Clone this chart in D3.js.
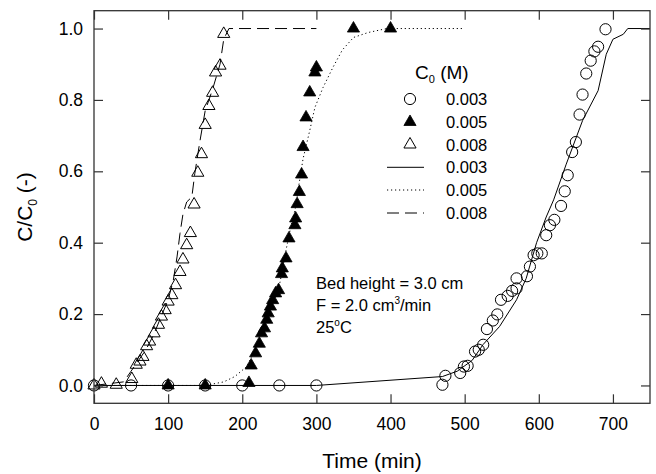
<!DOCTYPE html>
<html>
<head>
<meta charset="utf-8">
<script src="https://cdn.jsdelivr.net/npm/d3@7/dist/d3.min.js"></script>
<style>
  html, body { margin: 0; padding: 0; background: #fff; }
  svg { display: block; font-family: "Liberation Sans", Arial, Helvetica, sans-serif; }
</style>
</head>
<body>
<svg id="chart" width="656" height="474"></svg>
<script>
// Breakthrough curves: measured points (time in min, C/C0)
const obs003Time = [0, 50, 100, 150, 200, 250, 300, 470, 474, 494, 499, 504, 514, 519, 525, 530, 538, 544, 549, 558, 564, 570, 570, 584, 588, 593, 598, 604, 610, 615, 621, 630, 635, 639, 645, 650, 655, 659, 664, 670, 675, 680, 690];
const obs003Val  = [0, 0, 0, 0, 0, 0, 0, 0.002, 0.027, 0.035, 0.053, 0.055, 0.095, 0.100, 0.114, 0.158, 0.182, 0.199, 0.240, 0.251, 0.265, 0.272, 0.300, 0.306, 0.333, 0.365, 0.370, 0.370, 0.421, 0.449, 0.464, 0.503, 0.544, 0.589, 0.654, 0.682, 0.759, 0.815, 0.874, 0.910, 0.936, 0.949, 0.998];

const obs005Time = [100, 150, 209, 212, 218, 223, 226, 230, 233, 235, 238, 241, 245, 249, 253, 254, 259, 263, 271, 272, 274, 277, 280, 282, 286, 291, 298, 300, 350, 400];
const obs005Val  = [0, 0, 0.007, 0.056, 0.090, 0.117, 0.146, 0.160, 0.184, 0.202, 0.221, 0.239, 0.258, 0.267, 0.312, 0.328, 0.356, 0.412, 0.449, 0.468, 0.508, 0.542, 0.591, 0.668, 0.751, 0.821, 0.877, 0.891, 1.0, 1.0];

const obs008Time = [0, 10, 30, 51, 57, 62, 66, 71, 75, 81, 87, 91, 96, 100, 105, 110, 116, 120, 125, 130, 135, 140, 145, 150, 155, 160, 164, 170, 175];
const obs008Val  = [0, 0.005, 0.002, 0.018, 0.058, 0.067, 0.080, 0.110, 0.123, 0.146, 0.170, 0.193, 0.211, 0.235, 0.253, 0.281, 0.318, 0.353, 0.393, 0.427, 0.507, 0.596, 0.648, 0.730, 0.783, 0.820, 0.877, 0.896, 0.985];

// Model curves
const mod003Time = [0, 300, 470, 490, 510, 525, 547, 570, 583, 597, 610, 620, 637, 659, 680, 691, 700, 714, 720, 750];
const mod003Val  = [0, 0, 0.025, 0.040, 0.070, 0.115, 0.165, 0.240, 0.300, 0.400, 0.472, 0.520, 0.620, 0.742, 0.826, 0.928, 0.970, 0.984, 1.0, 1.0];

const mod005Time = [0, 150, 175, 190, 206, 215, 225, 235, 245, 251, 259, 265, 272, 277, 282, 291, 298, 309, 322, 335, 350, 370, 395, 500];
const mod005Val  = [0, 0, 0.010, 0.025, 0.053, 0.090, 0.140, 0.200, 0.250, 0.290, 0.379, 0.440, 0.500, 0.570, 0.635, 0.714, 0.779, 0.835, 0.890, 0.940, 0.975, 0.989, 1.0, 1.0];

const mod008Time = [0, 40, 50, 60, 70, 80, 90, 100, 107, 112, 116, 120, 125, 132, 136, 143, 150, 160, 170, 175, 182, 300];
const mod008Val  = [0, 0.010, 0.040, 0.070, 0.100, 0.140, 0.190, 0.240, 0.295, 0.360, 0.426, 0.480, 0.514, 0.528, 0.594, 0.686, 0.770, 0.830, 0.900, 0.970, 1.0, 1.0];

const xTicks = [0, 100, 200, 300, 400, 500, 600, 700];
const yTicks = [0, 0.2, 0.4, 0.6, 0.8, 1.0];
const legendLabels = ["0.003", "0.005", "0.008", "0.003", "0.005", "0.008"];

const svg = d3.select("#chart");
const x = d3.scaleLinear().domain([0, 750]).range([94, 650]);
const y = d3.scaleLinear().domain([-0.05, 1.05]).range([403.3, 10.7]);

const ink = "#000";
const frameColor = "#333";

const zip = (a, b) => a.map((v, i) => [v, b[i]]);
const line = d3.line().x(d => x(d[0])).y(d => y(d[1]));

// Model lines
const lineStyles = [
  { data: zip(mod003Time, mod003Val), dash: null },
  { data: zip(mod005Time, mod005Val), dash: "1.2,2.8" },
  { data: zip(mod008Time, mod008Val), dash: "12,6" }
];
lineStyles.forEach(s => {
  svg.append("path")
    .attr("d", line(s.data))
    .attr("fill", "none")
    .attr("stroke", ink)
    .attr("stroke-width", 1)
    .attr("stroke-dasharray", s.dash);
});

// Markers
const triPath = d3.symbol().type(d3.symbolTriangle).size(64)();

svg.append("g").selectAll("circle")
  .data(zip(obs003Time, obs003Val))
  .join("circle")
  .attr("cx", d => x(d[0])).attr("cy", d => y(d[1]))
  .attr("r", 5.6)
  .attr("fill", "none").attr("stroke", ink).attr("stroke-width", 1);

svg.append("g").selectAll("path")
  .data(zip(obs008Time, obs008Val))
  .join("path")
  .attr("d", triPath)
  .attr("transform", d => `translate(${x(d[0])},${y(d[1])})`)
  .attr("fill", "none").attr("stroke", ink).attr("stroke-width", 1);

svg.append("g").selectAll("path")
  .data(zip(obs005Time, obs005Val))
  .join("path")
  .attr("d", triPath)
  .attr("transform", d => `translate(${x(d[0])},${y(d[1])})`)
  .attr("fill", ink).attr("stroke", ink).attr("stroke-width", 0.8);

// Axes with inward ticks on all four sides
const tickFont = 17.5;
const fmtY = d3.format(".1f");

const gB = svg.append("g").attr("transform", `translate(0,${y.range()[0]})`)
  .call(d3.axisBottom(x).tickValues(xTicks).tickSizeInner(-9).tickSizeOuter(0).tickPadding(14).tickFormat(d3.format("d")));
const gT = svg.append("g").attr("transform", `translate(0,${y.range()[1]})`)
  .call(d3.axisTop(x).tickValues(xTicks).tickSizeInner(-9).tickSizeOuter(0).tickFormat(""));
const gL = svg.append("g").attr("transform", `translate(${x.range()[0]},0)`)
  .call(d3.axisLeft(y).tickValues(yTicks).tickSizeInner(-9).tickSizeOuter(0).tickPadding(11).tickFormat(fmtY));
const gR = svg.append("g").attr("transform", `translate(${x.range()[1]},0)`)
  .call(d3.axisRight(y).tickValues(yTicks).tickSizeInner(-9).tickSizeOuter(0).tickFormat(""));

[gB, gT, gL, gR].forEach(g => {
  g.select(".domain").remove();
  g.selectAll("line").attr("stroke", frameColor).attr("stroke-width", 1.2);
  g.selectAll("text").attr("fill", ink).style("font-size", tickFont + "px")
    .style("font-family", "'Liberation Sans', Arial, sans-serif");
});

// Frame
svg.append("rect")
  .attr("x", x.range()[0]).attr("y", y.range()[1])
  .attr("width", x.range()[1] - x.range()[0])
  .attr("height", y.range()[0] - y.range()[1])
  .attr("fill", "none").attr("stroke", frameColor).attr("stroke-width", 1.3);

// Axis titles
svg.append("text")
  .attr("x", 372).attr("y", 468)
  .attr("text-anchor", "middle")
  .style("font-size", "21px")
  .text("Time (min)");

const yTitle = svg.append("text")
  .attr("transform", "translate(32,207) rotate(-90)")
  .attr("text-anchor", "middle")
  .style("font-size", "21px");
yTitle.append("tspan").text("C/C");
yTitle.append("tspan").attr("dy", 5).style("font-size", "12px").text("0");
yTitle.append("tspan").attr("dy", -5).text(" (-)");

// Legend
const legTitle = svg.append("text").attr("x", 415).attr("y", 79).style("font-size", "19px");
legTitle.append("tspan").text("C");
legTitle.append("tspan").attr("dy", 4).style("font-size", "11px").text("0");
legTitle.append("tspan").attr("dy", -4).text(" (M)");

const rowY = [99, 122, 144.5, 167.3, 190, 213];
const leg = svg.append("g");
legendLabels.forEach((lab, i) => {
  leg.append("text").attr("x", 446).attr("y", rowY[i] + 6)
    .style("font-size", "16.5px").text(lab);
});
leg.append("circle").attr("cx", 410).attr("cy", rowY[0]).attr("r", 5.6)
  .attr("fill", "none").attr("stroke", ink);
leg.append("path").attr("d", triPath).attr("transform", `translate(410,${rowY[1]})`)
  .attr("fill", ink).attr("stroke", ink).attr("stroke-width", 0.8);
leg.append("path").attr("d", triPath).attr("transform", `translate(410,${rowY[2]})`)
  .attr("fill", "none").attr("stroke", ink);
[null, "1.2,2.8", "12,6"].forEach((dash, i) => {
  leg.append("line")
    .attr("x1", 387).attr("x2", 424)
    .attr("y1", rowY[3 + i]).attr("y2", rowY[3 + i])
    .attr("stroke", ink).attr("stroke-width", 1)
    .attr("stroke-dasharray", dash);
});

// Experimental conditions
const note = svg.append("g").style("font-size", "16.5px");
note.append("text").attr("x", 316).attr("y", 289).text("Bed height = 3.0 cm");
const f = note.append("text").attr("x", 316).attr("y", 311);
f.append("tspan").text("F = 2.0 cm");
f.append("tspan").attr("dy", -7).style("font-size", "10px").text("3");
f.append("tspan").attr("dy", 7).text("/min");
const t = note.append("text").attr("x", 316).attr("y", 333);
t.append("tspan").text("25");
t.append("tspan").attr("dy", -7).style("font-size", "10px").text("o");
t.append("tspan").attr("dy", 7).text("C");
</script>
</body>
</html>
